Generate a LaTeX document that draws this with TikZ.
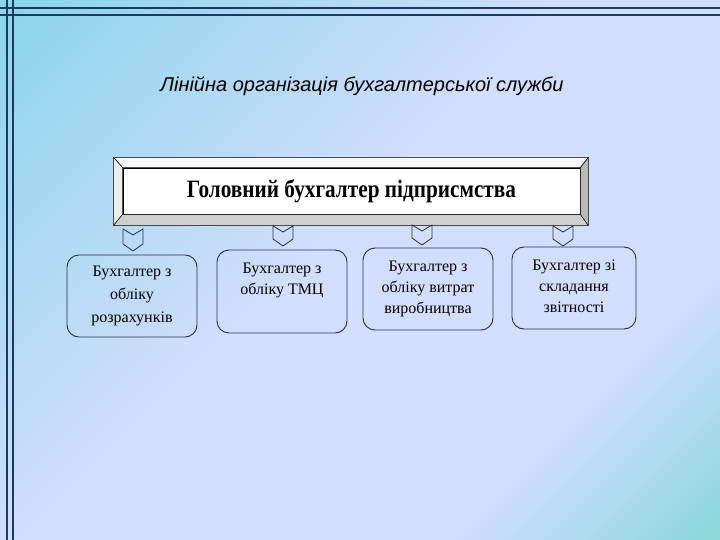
\documentclass[tikz,border=0pt]{standalone}
\usepackage{fontspec}
\usepackage{graphicx}
\setmainfont{Liberation Serif}
\newfontfamily\slidefont{Liberation Sans}
\usetikzlibrary{calc}

\definecolor{bgcyan}{HTML}{8DD5EB}
\definecolor{bglav}{HTML}{D3DEFC}
\definecolor{bgteal}{HTML}{8ED8DC}
\definecolor{framenavy}{HTML}{1C3A5E}
\definecolor{boxline}{HTML}{22344F}

\pgfdeclarehorizontalshading{slidebg}{100bp}{color(0bp)=(bgcyan);
  color(16bp)=(bgcyan); color(47bp)=(bglav); color(70bp)=(bglav);
  color(84bp)=(bgteal); color(100bp)=(bgteal)}

\tikzset{
  unitbox/.style={draw=boxline, rounded corners=12pt, line width=0.9pt,
    minimum height=82pt, inner sep=0pt},
  unittext/.style={font=\fontsize{16}{21}\selectfont, align=center, inner sep=0pt},
  chev/.style={draw=boxline, line width=0.8pt, line join=miter},
  bevel/.style={draw=black, line width=0.5pt},
}

\begin{document}
\begin{tikzpicture}[x=1pt, y=-1pt]
                \useasboundingbox (0, 0) rectangle (720, 540);
                \shade[shading=slidebg, shading angle=-45] (0, 0) rectangle (720, 540);

                % frame lines
                \draw[framenavy, line width=1.6pt] (0, 8) -- (720, 8);
                \draw[framenavy, line width=1.6pt] (0, 15) -- (720, 15);
                \draw[framenavy, line width=1.6pt] (7, 0) -- (7, 540);
                \draw[framenavy, line width=1.6pt] (13, 0) -- (13, 540);

                \node[font=\slidefont\itshape\fontsize{20}{24}\selectfont] (title)
                  at (362, 86) {Лінійна організація бухгалтерської служби};

                % head box
                \node[draw, fill=white, line width=0.6pt, minimum width=457pt,
                  minimum height=46pt, inner sep=0pt] (head) at (351.5, 191)
                  {\fontsize{25}{28}\selectfont\bfseries\scalebox{0.85}[1]{Головний бухгалтер підприсмства}};
                \draw[bevel, fill=gray!6] (head.north west) -- (head.north east)
                  -- ++(8pt, 10pt) -- ($(head.north west) + (-9pt, 10pt)$) -- cycle;
                \draw[bevel, fill=gray!14] (head.north west) -- (head.south west)
                  -- ++(-9pt, -11pt) -- ($(head.north west) + (-9pt, 10pt)$) -- cycle;
                \draw[bevel, fill=gray!38] (head.south west) -- (head.south east)
                  -- ++(8pt, -11pt) -- ($(head.south west) + (-9pt, -11pt)$) -- cycle;
                \draw[bevel, fill=gray!55] (head.north east) -- (head.south east)
                  -- ++(8pt, -11pt) -- ($(head.north east) + (8pt, 10pt)$) -- cycle;

                % arrows (top left corners)
                \coordinate (c1) at (123, 229);
                \coordinate (c2) at (273, 226);
                \coordinate (c3) at (412, 225);
                \coordinate (c4) at (553, 226);
                \draw[chev] (c1) -- ++(10, 6) -- ++(10, -6) -- ++(0, 15)
                  -- ++(-10, 7) -- ++(-10, -7) -- cycle;
                \foreach \c in {c2, c3, c4}
                  \draw[chev] (\c) -- ++(10, 6) -- ++(10, -6) -- ++(0, 13)
                    -- ++(-10, 7) -- ++(-10, -7) -- cycle;

                % units
                \node[unitbox, minimum width=130pt] (u1) at (132, 296) {};
                \node[unitbox, minimum width=130pt, minimum height=83pt] (u2) at (282, 291.5) {};
                \node[unitbox, minimum width=130pt] (u3) at (428, 289) {};
                \node[unitbox, minimum width=124pt] (u4) at (574, 288) {};

                \node[unittext, font=\fontsize{16}{23}\selectfont] at (u1.center)
                  {Бухгалтер з\\обліку\\розрахунків};
                \node[unittext] at ($(u2.north) + (0, 31)$) {Бухгалтер з\\обліку ТМЦ};
                \node[unittext] at (u3.center) {Бухгалтер з\\обліку витрат\\виробництва};
                \node[unittext] at ($(u4.center) + (0, -2)$) {Бухгалтер зі\\складання\\звітності};
\end{tikzpicture}
\end{document}
